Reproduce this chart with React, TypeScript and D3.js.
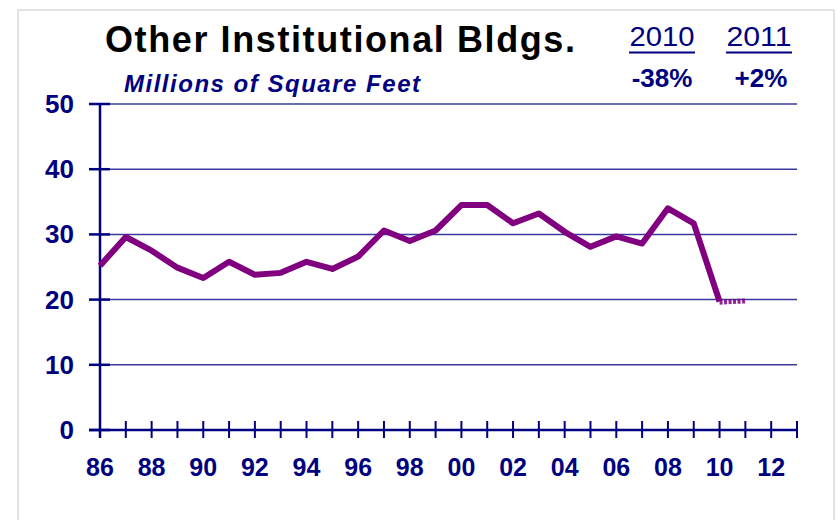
import React, { useEffect, useRef } from 'react';
import * as d3 from 'd3';

// chart values
const years = [1986, 1987, 1988, 1989, 1990, 1991, 1992, 1993, 1994, 1995, 1996, 1997, 1998,
  1999, 2000, 2001, 2002, 2003, 2004, 2005, 2006, 2007, 2008, 2009, 2010];
const values = [25.2, 29.6, 27.5, 24.9, 23.3, 25.8, 23.8, 24.1, 25.8, 24.7, 26.6, 30.6, 29.0,
  30.6, 34.5, 34.5, 31.7, 33.2, 30.4, 28.1, 29.7, 28.6, 34.0, 31.7, 19.7];
const forecastYears = [2010, 2011];
const forecastValues = [19.6, 19.8];
const yTicks = [0, 10, 20, 30, 40, 50];
const xLabelYears = [1986, 1988, 1990, 1992, 1994, 1996, 1998, 2000, 2002, 2004, 2006, 2008, 2010, 2012];
const changeYears = ['2010', '2011'];
const changeValues = ['-38%', '+2%'];

const NAVY = '#000080';
const PURPLE = '#800080';
const FONT = 'Arial, "Liberation Sans", sans-serif';

const App = () => {
  const ref = useRef(null);

  useEffect(() => {
    const svg = d3.select(ref.current);
    svg.selectAll('*').remove();

    const x = d3.scaleLinear().domain([1986, 2013]).range([100, 797]);
    const y = d3.scaleLinear().domain([0, 50]).range([430, 104]);

    // outer frame
    svg.append('rect')
      .attr('x', 18).attr('y', 10)
      .attr('width', 816).attr('height', 520)
      .attr('fill', 'white')
      .attr('stroke', '#c8c8c8');

    // title + subtitle
    svg.append('text')
      .attr('x', 105).attr('y', 52)
      .attr('font-family', FONT).attr('font-weight', 'bold').attr('font-size', 36)
      .attr('textLength', 470).attr('lengthAdjust', 'spacing')
      .text('Other Institutional Bldgs.');

    svg.append('text')
      .attr('x', 124).attr('y', 92)
      .attr('font-family', FONT).attr('font-weight', 'bold').attr('font-style', 'italic')
      .attr('font-size', 24).attr('fill', NAVY)
      .attr('textLength', 296).attr('lengthAdjust', 'spacing')
      .text('Millions of Square Feet');

    // yearly change boxes top right
    const cx = [662, 759];
    changeYears.forEach((t, i) => {
      svg.append('text')
        .attr('x', cx[i]).attr('y', 46).attr('text-anchor', 'middle')
        .attr('font-family', FONT).attr('font-size', 27).attr('fill', NAVY)
        .attr('textLength', 65).attr('lengthAdjust', 'spacingAndGlyphs')
        .text(t);
      svg.append('line')
        .attr('x1', cx[i] - 33).attr('x2', cx[i] + 33)
        .attr('y1', 52.5).attr('y2', 52.5)
        .attr('stroke', NAVY).attr('stroke-width', 2);
      svg.append('text')
        .attr('x', cx[i] + (i === 1 ? 2 : 0)).attr('y', 87).attr('text-anchor', 'middle')
        .attr('font-family', FONT).attr('font-weight', 'bold').attr('font-size', 26).attr('fill', NAVY)
        .text(changeValues[i]);
    });

    // gridlines
    svg.append('g')
      .selectAll('line')
      .data(yTicks.filter(d => d > 0))
      .join('line')
      .attr('x1', 100).attr('x2', 797)
      .attr('y1', d => y(d)).attr('y2', d => y(d))
      .attr('stroke', '#3a3a9c').attr('stroke-width', 1.5);

    // y axis
    svg.append('line')
      .attr('x1', 100).attr('x2', 100)
      .attr('y1', y(50)).attr('y2', 438)
      .attr('stroke', NAVY).attr('stroke-width', 2.5);
    svg.append('g')
      .selectAll('line')
      .data(yTicks)
      .join('line')
      .attr('x1', 89).attr('x2', 110)
      .attr('y1', d => y(d)).attr('y2', d => y(d))
      .attr('stroke', NAVY).attr('stroke-width', 2.5);
    svg.append('g')
      .selectAll('text')
      .data(yTicks)
      .join('text')
      .attr('x', 74).attr('y', d => y(d) + 9)
      .attr('text-anchor', 'end')
      .attr('font-family', FONT).attr('font-weight', 'bold').attr('font-size', 26)
      .attr('fill', NAVY)
      .text(d => d);

    // x axis
    svg.append('line')
      .attr('x1', 89).attr('x2', 797)
      .attr('y1', y(0)).attr('y2', y(0))
      .attr('stroke', NAVY).attr('stroke-width', 2.5);
    svg.append('g')
      .selectAll('line')
      .data(d3.range(1986, 2014))
      .join('line')
      .attr('x1', d => x(d)).attr('x2', d => x(d))
      .attr('y1', 421).attr('y2', 438)
      .attr('stroke', NAVY).attr('stroke-width', 2);
    svg.append('g')
      .selectAll('text')
      .data(xLabelYears)
      .join('text')
      .attr('x', d => x(d)).attr('y', 476)
      .attr('text-anchor', 'middle')
      .attr('font-family', FONT).attr('font-weight', 'bold').attr('font-size', 25)
      .attr('fill', NAVY)
      .text(d => String(d % 100).padStart(2, '0'));

    // data line
    const line = d3.line()
      .x(d => x(d[0]))
      .y(d => y(d[1]));

    svg.append('path')
      .attr('d', line(years.map((yr, i) => [yr, values[i]])))
      .attr('fill', 'none')
      .attr('stroke', PURPLE)
      .attr('stroke-width', 6)
      .attr('stroke-linejoin', 'round');

    // forecast segment (patterned)
    svg.append('path')
      .attr('d', line(forecastYears.map((yr, i) => [yr, forecastValues[i]])))
      .attr('fill', 'none')
      .attr('stroke', PURPLE)
      .attr('stroke-width', 5)
      .attr('stroke-dasharray', '3 1.5')
      .attr('opacity', 0.85);
  }, []);

  return (
    <svg ref={ref} width={837} height={520}
      style={{ position: 'absolute', left: 0, top: 0, background: 'white' }} />
  );
};

export default App;
